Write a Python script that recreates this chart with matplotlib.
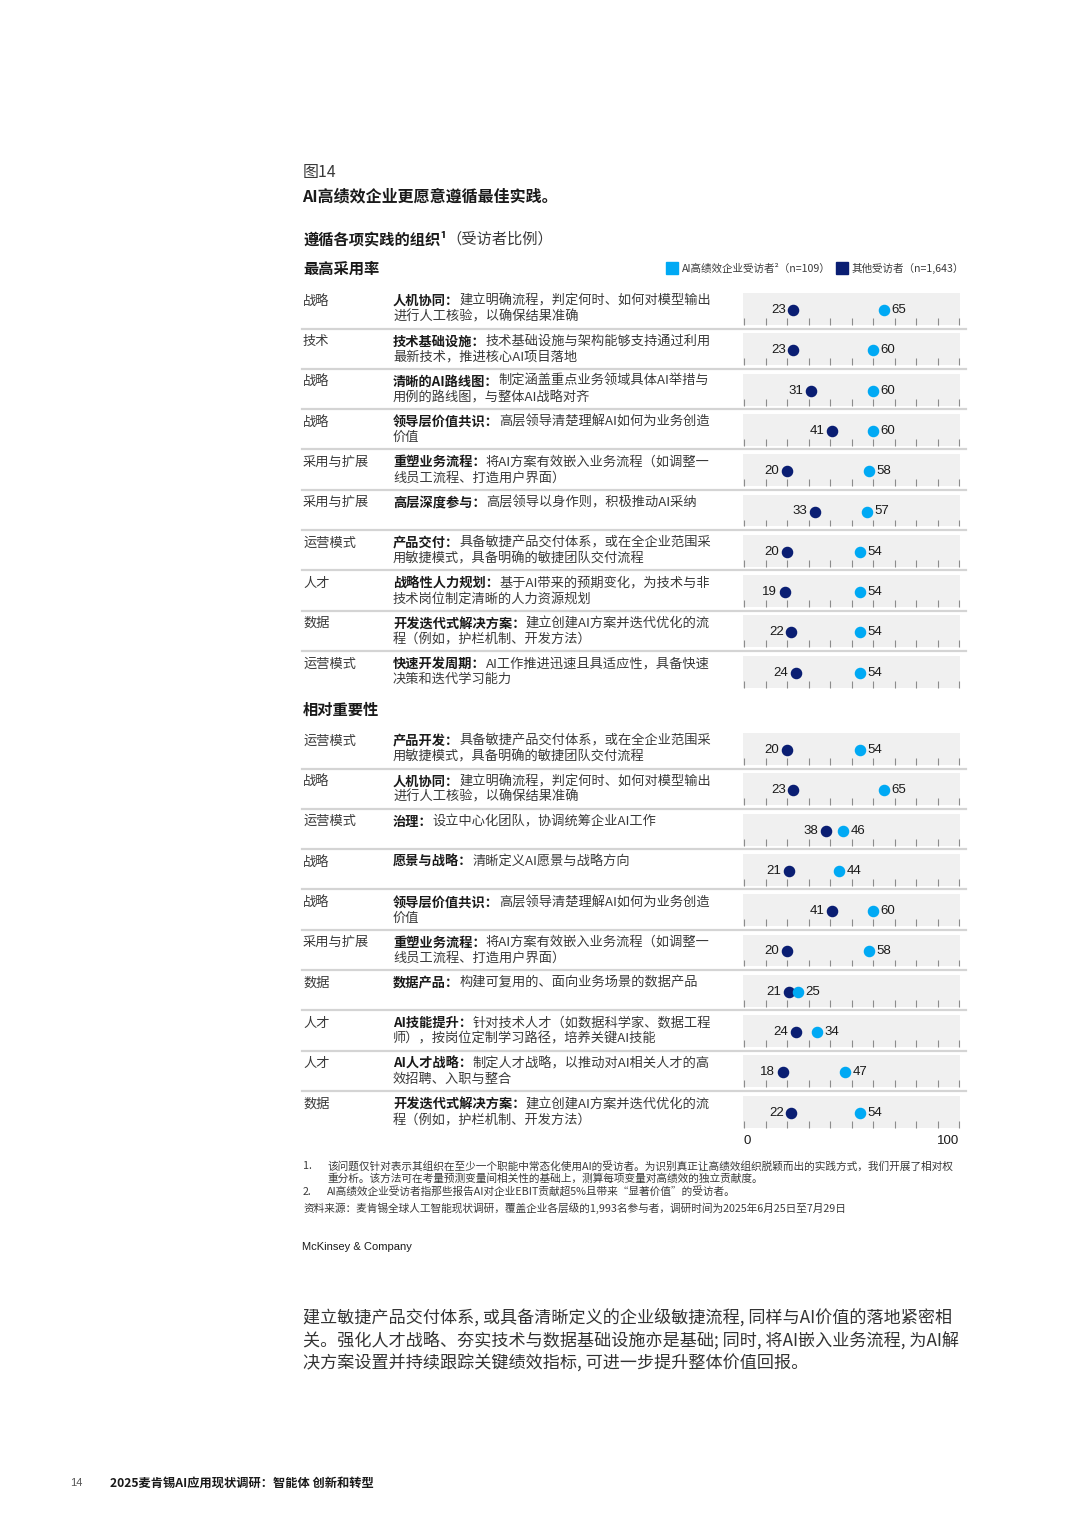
import numpy as np
import matplotlib.pyplot as plt
from matplotlib.lines import Line2D
from matplotlib.transforms import blended_transform_factory

plt.rcParams['font.family'] = ['Noto Sans CJK SC', 'DejaVu Sans']

LIGHT = '#00a9f4'
DARK = '#0a1e73'
BAND = '#f0f0f0'
SEP = '#d4d4d4'
TXT = '#1a1a1a'
GREY = '#3a3a3a'

# ---- data: 最高采用率 ----
top_cats = ['战略', '技术', '战略', '战略', '采用与扩展', '采用与扩展',
            '运营模式', '人才', '数据', '运营模式']
top_bold = ['人机协同：', '技术基础设施：', '清晰的AI路线图：', '领导层价值共识：',
            '重塑业务流程：', '高层深度参与：', '产品交付：', '战略性人力规划：',
            '开发迭代式解决方案：', '快速开发周期：']
top_line1 = ['建立明确流程，判定何时、如何对模型输出',
             '技术基础设施与架构能够支持通过利用',
             '制定涵盖重点业务领域具体AI举措与',
             '高层领导清楚理解AI如何为业务创造',
             '将AI方案有效嵌入业务流程（如调整一',
             '高层领导以身作则，积极推动AI采纳',
             '具备敏捷产品交付体系，或在全企业范围采',
             '基于AI带来的预期变化，为技术与非',
             '建立创建AI方案并迭代优化的流',
             'AI工作推进迅速且具适应性，具备快速']
top_line2 = ['进行人工核验，以确保结果准确',
             '最新技术，推进核心AI项目落地',
             '用例的路线图，与整体AI战略对齐',
             '价值',
             '线员工流程、打造用户界面）',
             '',
             '用敏捷模式，具备明确的敏捷团队交付流程',
             '技术岗位制定清晰的人力资源规划',
             '程（例如，护栏机制、开发方法）',
             '决策和迭代学习能力']
top_high = [65, 60, 60, 60, 58, 57, 54, 54, 54, 54]
top_other = [23, 23, 31, 41, 20, 33, 20, 19, 22, 24]

# ---- data: 相对重要性 ----
rel_cats = ['运营模式', '战略', '运营模式', '战略', '战略', '采用与扩展',
            '数据', '人才', '人才', '数据']
rel_bold = ['产品开发：', '人机协同：', '治理：', '愿景与战略：', '领导层价值共识：',
            '重塑业务流程：', '数据产品：', 'AI技能提升：', 'AI人才战略：',
            '开发迭代式解决方案：']
rel_line1 = ['具备敏捷产品交付体系，或在全企业范围采',
             '建立明确流程，判定何时、如何对模型输出',
             '设立中心化团队，协调统筹企业AI工作',
             '清晰定义AI愿景与战略方向',
             '高层领导清楚理解AI如何为业务创造',
             '将AI方案有效嵌入业务流程（如调整一',
             '构建可复用的、面向业务场景的数据产品',
             '针对技术人才（如数据科学家、数据工程',
             '制定人才战略，以推动对AI相关人才的高',
             '建立创建AI方案并迭代优化的流']
rel_line2 = ['用敏捷模式，具备明确的敏捷团队交付流程',
             '进行人工核验，以确保结果准确',
             '',
             '',
             '价值',
             '线员工流程、打造用户界面）',
             '',
             '师），按岗位定制学习路径，培养关键AI技能',
             '效招聘、入职与整合',
             '程（例如，护栏机制、开发方法）']
rel_high = [54, 65, 46, 44, 60, 58, 25, 34, 47, 54]
rel_other = [20, 23, 38, 21, 41, 20, 21, 24, 18, 22]

ticks = np.arange(0, 101, 10)

W, H = 1080, 1527
PITCH = 40.3


def fx(x):
    return x / W


def fy(y):
    return 1 - y / H


fig = plt.figure(figsize=(10.8, 15.27), dpi=100)


def draw_section(first_dot, cats, bold, line1, line2, high, other, scale=False):
    n = len(cats)
    bottom_px = first_dot - PITCH / 2 + n * PITCH
    ax = fig.add_axes([fx(744), fy(bottom_px), fx(959) - fx(744), n * PITCH / H])
    ax.set_xlim(0, 100)
    ax.set_ylim(n - 0.5, -0.5)
    ax.axis('off')
    rows = np.arange(n)
    blend = blended_transform_factory(fig.transFigure, ax.transData)

    ax.barh(rows - 0.025, 101, left=-0.5, height=0.79, color=BAND,
            clip_on=False, zorder=0)
    for r in rows:
        ax.vlines(ticks, r + 0.2, r + 0.37, color='#8c8c8c', lw=0.8,
                  clip_on=False, zorder=1)
        if r < n - 1:
            fig.add_artist(Line2D([fx(302), fx(966)], [r + 0.46, r + 0.46],
                                  transform=blend, color=SEP, lw=1.6))
        fig.text(fx(303), r - 0.22, cats[r], transform=blend, va='center',
                 fontsize=9.5, color=GREY)
        t = fig.text(fx(393), r - 0.22, bold[r], transform=blend, va='center',
                     fontsize=9.5, fontweight='bold', color=TXT)
        ax.annotate(line1[r], xy=(1, 0.5), xycoords=t, va='center', ha='left',
                    fontsize=9.5, color=GREY)
        if line2[r]:
            fig.text(fx(393), r + 0.17, line2[r], transform=blend, va='center',
                     fontsize=9.5, color=GREY)
        ax.annotate(str(other[r]), (other[r], r), xytext=(-5.5, 0),
                    textcoords='offset points', ha='right', va='center',
                    fontsize=9.5, family='Liberation Sans', color=TXT)
        ax.annotate(str(high[r]), (high[r], r), xytext=(5.5, 0),
                    textcoords='offset points', ha='left', va='center',
                    fontsize=9.5, family='Liberation Sans', color=TXT)

    ax.plot(other, rows, 'o', color=DARK, ms=7.3, clip_on=False, zorder=3)
    ax.plot(high, rows, 'o', color=LIGHT, ms=7.3, clip_on=False, zorder=3)

    if scale:
        ax.text(0, n - 1 + 0.7, '0', ha='left', va='center', fontsize=9.5,
                family='Liberation Sans', color=TXT)
        ax.text(100, n - 1 + 0.7, '100', ha='right', va='center', fontsize=9.5,
                family='Liberation Sans', color=TXT)
    return ax


draw_section(310, top_cats, top_bold, top_line1, top_line2, top_high, top_other)
draw_section(750, rel_cats, rel_bold, rel_line1, rel_line2, rel_high, rel_other,
             scale=True)

# ---- headings ----
fig.text(fx(303), fy(172), '图14', fontsize=11.5, va='center', color=GREY)
fig.text(fx(302), fy(196), 'AI高绩效企业更愿意遵循最佳实践。', fontsize=11.5,
         fontweight='bold', va='center', color=TXT)
h1 = fig.text(fx(303), fy(239), '遵循各项实践的组织¹', fontsize=11,
              fontweight='bold', va='center', color=TXT)
plt.annotate('（受访者比例）', xy=(1, 0.5), xycoords=h1, va='center', ha='left',
             fontsize=11, color=GREY)
fig.text(fx(303), fy(269), '最高采用率', fontsize=11, fontweight='bold',
         va='center', color=TXT)
fig.text(fx(303), fy(710), '相对重要性', fontsize=11, fontweight='bold',
         va='center', color=TXT)

handles = [Line2D([], [], marker='s', ls='', color=LIGHT, ms=8),
           Line2D([], [], marker='s', ls='', color=DARK, ms=8)]
fig.legend(handles, ['AI高绩效企业受访者²（n=109）', '其他受访者（n=1,643）'],
           loc='center right', bbox_to_anchor=(fx(964), fy(268)), ncol=2,
           frameon=False, fontsize=7.6, handlelength=0.9, handletextpad=0.5,
           columnspacing=0.6, borderaxespad=0, borderpad=0, labelcolor=GREY)

# ---- footnotes ----
fn = 7.7
fig.text(fx(303), fy(1166), '1.', fontsize=fn, va='center', color=GREY)
fig.text(fx(327), fy(1166), '该问题仅针对表示其组织在至少一个职能中常态化使用AI的受访者。'
         '为识别真正让高绩效组织脱颖而出的实践方式，我们开展了相对权',
         fontsize=fn, va='center', color=GREY)
fig.text(fx(327), fy(1179), '重分析。该方法可在考量预测变量间相关性的基础上，测算每项变量对高绩效的独立贡献度。',
         fontsize=fn, va='center', color=GREY)
fig.text(fx(303), fy(1192), '2.', fontsize=fn, va='center', color=GREY)
fig.text(fx(327), fy(1192), 'AI高绩效企业受访者指那些报告AI对企业EBIT贡献超5%且带来“显著价值”的受访者。',
         fontsize=fn, va='center', color=GREY)
fig.text(fx(303), fy(1208), '资料来源：麦肯锡全球人工智能现状调研，覆盖企业各层级的1,993名参与者，'
         '调研时间为2025年6月25日至7月29日', fontsize=fn, va='center', color=GREY)
fig.text(fx(302), fy(1247), 'McKinsey & Company', fontsize=8, va='center',
         family='Liberation Sans', color=TXT)

# ---- body text ----
body = ['建立敏捷产品交付体系, 或具备清晰定义的企业级敏捷流程, 同样与AI价值的落地紧密相',
        '关。强化人才战略、夯实技术与数据基础设施亦是基础; 同时, 将AI嵌入业务流程, 为AI解',
        '决方案设置并持续跟踪关键绩效指标, 可进一步提升整体价值回报。']
for i, line in enumerate(body):
    fig.text(fx(303), fy(1317 + i * 23.5), line, fontsize=12.3, va='center',
             color='#333333')

# ---- footer ----
fig.text(fx(70), fy(1483), '14', fontsize=8, va='center', color='#555555',
         family='Liberation Sans')
fig.text(fx(110), fy(1483), '2025麦肯锡AI应用现状调研：智能体 创新和转型', fontsize=8.8,
         fontweight='bold', va='center', color=TXT)

fig.savefig('out.png', dpi=100)
